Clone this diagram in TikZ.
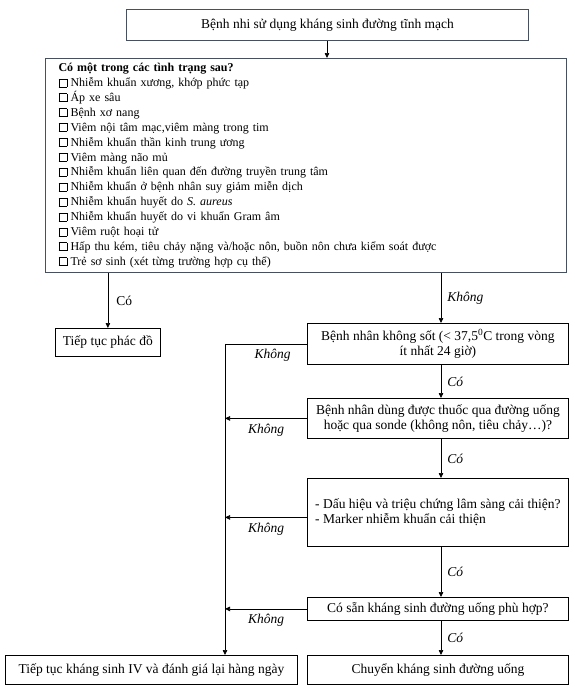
\documentclass[tikz,border=0pt]{standalone}
\usepackage{fontspec}
\setmainfont{Liberation Serif}
\usepackage{tikz}
\usetikzlibrary{calc, positioning, arrows.meta}
\definecolor{slate}{RGB}{70,80,95}
\newcommand{\ckbox}{{\setlength{\fboxsep}{0pt}\setlength{\fboxrule}{0.5pt}\fbox{\rule{0pt}{7.5pt}\hspace{7.5pt}}}\hspace{3.5pt}}
\newcommand{\bigtxt}{\fontsize{13.5}{15.5}\selectfont}
\tikzset{
    topbox/.style={rectangle, draw=slate, line width=1.1pt, fill=white, align=center, anchor=north west, minimum width=402pt, minimum height=31pt, font=\bigtxt},
    listbox/.style={rectangle, draw=slate, line width=1.1pt, anchor=north west, align=left, text width=495pt, inner xsep=13pt, minimum height=214pt},
    stepbox/.style={rectangle, draw=black, line width=0.8pt, align=center, anchor=north west, minimum width=261pt, inner xsep=2pt, font=\bigtxt},
    arrow/.style={-{Triangle[length=5pt, width=4.5pt]}, line width=0.7pt},
    yes/.style={font=\bigtxt\itshape, right, inner xsep=6pt},
    no/.style={font=\bigtxt\itshape, below, inner ysep=5pt}
}

\begin{document}
\begin{tikzpicture}[x=1pt, y=-1pt, font=\fontsize{12}{14.9}\selectfont]
    \useasboundingbox (0,0) rectangle (574,688);

    % Start
    \node[topbox] (start) at (126,9) {Bệnh nhi sử dụng kháng sinh đường tĩnh mạch};

    % Condition list
    \node[listbox] (cond) at (45,58) {
        \textbf{Có một trong các tình trạng sau?}\\
        \ckbox Nhiễm khuẩn xương, khớp phức tạp\\
        \ckbox Áp xe sâu\\
        \ckbox Bệnh xơ nang\\
        \ckbox Viêm nội tâm mạc,viêm màng trong tim\\
        \ckbox Nhiễm khuẩn thần kinh trung ương\\
        \ckbox Viêm màng não mủ\\
        \ckbox Nhiễm khuẩn liên quan đến đường truyền trung tâm\\
        \ckbox Nhiễm khuẩn ở bệnh nhân suy giảm miễn dịch\\
        \ckbox Nhiễm khuẩn huyết do \textit{S. aureus}\\
        \ckbox Nhiễm khuẩn huyết do vi khuẩn Gram âm\\
        \ckbox Viêm ruột hoại tử\\
        \ckbox Hấp thu kém, tiêu chảy nặng và/hoặc nôn, buồn nôn chưa kiểm soát được\\
        \ckbox Trẻ sơ sinh (xét từng trường hợp cụ thể)
    };

    % Steps
    \node[stepbox, minimum width=105pt, minimum height=28pt] (cont) at (55,328) {Tiếp tục phác đồ};
    \node[stepbox, minimum height=41pt] (fever) at (307,323) {Bệnh nhân không sốt (< 37,5\textsuperscript{0}C trong vòng\\ít nhất 24 giờ)};
    \node[stepbox, minimum height=40pt] (oral) at (307,398) {Bệnh nhân dùng được thuốc qua đường uống\\hoặc qua sonde (không nôn, tiêu chảy\dots)?};
    \node[stepbox, minimum height=68pt, align=left] (better) at (307,478) {- Dấu hiệu và triệu chứng lâm sàng cải thiện?\\- Marker nhiễm khuẩn cải thiện};
    \node[stepbox, minimum height=23pt] (avail) at (307,597) {Có sẵn kháng sinh đường uống phù hợp?};
    \node[stepbox, minimum width=292pt, minimum height=29pt] (keepiv) at (5,655) {Tiếp tục kháng sinh IV và đánh giá lại hàng ngày};
    \node[stepbox, minimum height=29pt] (switch) at (307,655) {Chuyển kháng sinh đường uống};

    \coordinate (col) at (441,0);
    \coordinate (rail) at (225,0);

    % Main arrows
    \draw[arrow] (start.south -| 327,0) -- (327,58);
    \draw[arrow] (cond.south -| cont.north) -- node[right, inner xsep=8pt, font=\bigtxt] {Có} (cont.north);
    \draw[arrow] (cond.south -| col) -- node[yes] {Không} (fever.north -| col);
    \draw[arrow] (fever.south -| col) -- node[yes] {Có} (oral.north -| col);
    \draw[arrow] (oral.south -| col) -- node[yes] {Có} (better.north -| col);
    \draw[arrow] (better.south -| col) -- node[yes] {Có} (avail.north -| col);
    \draw[arrow] (avail.south -| col) -- node[yes] {Có} (switch.north -| col);

    % Left rail
    \draw[line width=0.7pt] (fever.west) -- node[no, pos=0.42] {Không} (fever.west -| rail);
    \draw[arrow] (fever.west -| rail) -- (keepiv.north -| rail);
    \draw[arrow] (oral.west) -- node[no] {Không} (oral.west -| rail);
    \draw[arrow] ($(better.west)+(0,5)$) -- node[no] {Không} ($(better.west -| rail)+(0,5)$);
    \draw[arrow] (avail.west) -- node[no] {Không} (avail.west -| rail);

\end{tikzpicture}
\end{document}
